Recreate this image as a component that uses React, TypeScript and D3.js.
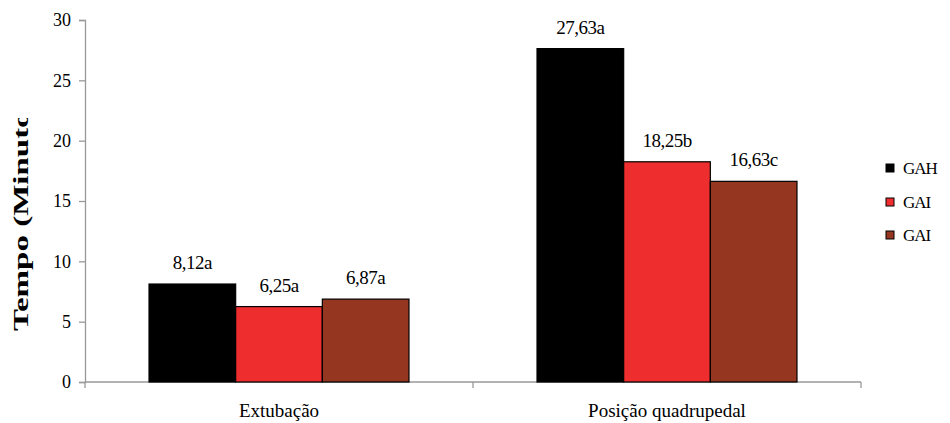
import React, { useEffect, useRef } from 'react';
import * as d3 from 'd3';

const categories = ['Extubação', 'Posição quadrupedal'];
const seriesNames = ['GAH', 'GAI', 'GAI'];
const seriesColors = ['#000000', '#ee2e2e', '#943620'];
const gahValues = [8.12, 27.63];
const gaiValues = [6.25, 18.25];
const gai2Values = [6.87, 16.63];
const gahLabels = ['8,12a', '27,63a'];
const gaiLabels = ['6,25a', '18,25b'];
const gai2Labels = ['6,87a', '16,63c'];
const yTicks = [0, 5, 10, 15, 20, 25, 30];

const FONT = 'Liberation Serif';

const App = () => {
  const ref = useRef<SVGSVGElement>(null);

  useEffect(() => {
    const svg = d3.select(ref.current);
    svg.selectAll('*').remove();

    const width = 950;
    const height = 423;
    const left = 85;
    const right = 861;
    const top = 20;
    const bottom = 382;

    const series = [
      { values: gahValues, labels: gahLabels },
      { values: gaiValues, labels: gaiLabels },
      { values: gai2Values, labels: gai2Labels },
    ];

    const x = d3.scaleBand<string>()
      .domain(categories)
      .range([left, right])
      .paddingInner(0.33)
      .paddingOuter(0.165);

    const xs = d3.scaleBand<number>()
      .domain([0, 1, 2])
      .range([0, x.bandwidth()]);

    const y = d3.scaleLinear().domain([0, 30]).range([bottom, top]);

    svg.attr('width', width).attr('height', height)
      .style('display', 'block');

    // y axis
    const yAxis = svg.append('g')
      .attr('transform', `translate(${left},0)`)
      .call(d3.axisLeft(y).tickValues(yTicks).tickSize(6).tickPadding(8).tickFormat(d3.format('d')));
    yAxis.select('.domain').attr('stroke', '#999').attr('stroke-width', 1.3);
    yAxis.selectAll('.tick line').attr('stroke', '#999').attr('stroke-width', 1.3);
    yAxis.selectAll('.tick text')
      .attr('fill', '#000')
      .style('font-family', FONT)
      .style('font-size', '18px');

    // x axis (ticks between categories)
    const xAxisG = svg.append('g');
    xAxisG.append('line')
      .attr('x1', left).attr('x2', right)
      .attr('y1', bottom).attr('y2', bottom)
      .attr('stroke', '#999').attr('stroke-width', 1.3);
    const boundaries = [left, (x(categories[1]) as number) - x.step() * x.paddingInner() / 2, right];
    boundaries.forEach((bx) => {
      xAxisG.append('line')
        .attr('x1', bx).attr('x2', bx)
        .attr('y1', bottom).attr('y2', bottom + 6)
        .attr('stroke', '#999').attr('stroke-width', 1.3);
    });

    categories.forEach((c) => {
      svg.append('text')
        .attr('x', (x(c) as number) + x.bandwidth() / 2)
        .attr('y', bottom + 35)
        .attr('text-anchor', 'middle')
        .style('font-family', FONT)
        .style('font-size', '19px')
        .text(c);
    });

    // bars
    series.forEach((s, si) => {
      categories.forEach((c, ci) => {
        const bx = (x(c) as number) + (xs(si) as number);
        svg.append('rect')
          .attr('x', bx)
          .attr('y', y(s.values[ci]))
          .attr('width', xs.bandwidth())
          .attr('height', bottom - y(s.values[ci]))
          .attr('fill', seriesColors[si])
          .attr('stroke', '#000')
          .attr('stroke-width', 1.2);
        svg.append('text')
          .attr('x', bx + xs.bandwidth() / 2)
          .attr('y', y(s.values[ci]) - 15)
          .attr('text-anchor', 'middle')
          .style('font-family', FONT)
          .style('font-size', '19px')
          .style('letter-spacing', '-0.5px')
          .text(s.labels[ci]);
      });
    });

    // y title, stretched and clipped like the original
    svg.append('clipPath').attr('id', 'ytitle-clip')
      .append('rect')
      .attr('x', 0).attr('y', 118).attr('width', 60).attr('height', 300);
    svg.append('g')
      .attr('clip-path', 'url(#ytitle-clip)')
      .append('text')
      .attr('transform', 'translate(28,331) rotate(-90) scale(1.5,1)')
      .attr('text-anchor', 'start')
      .style('font-family', FONT)
      .style('font-size', '22px')
      .style('font-weight', 'bold')
      .text('Tempo (Minutos)');

    // legend
    const legendRows = [168, 202, 235];
    seriesNames.forEach((n, i) => {
      svg.append('rect')
        .attr('x', 886)
        .attr('y', legendRows[i] - 4)
        .attr('width', 8)
        .attr('height', 8)
        .attr('fill', seriesColors[i])
        .attr('stroke', '#000')
        .attr('stroke-width', 1);
      svg.append('text')
        .attr('x', 903)
        .attr('y', legendRows[i] + 6)
        .style('font-family', FONT)
        .style('font-size', '17px')
        .style('letter-spacing', '-1px')
        .text(n);
    });
  }, []);

  return <svg ref={ref} style={{ position: 'absolute', left: 0, top: 0 }} />;
};

export default App;
